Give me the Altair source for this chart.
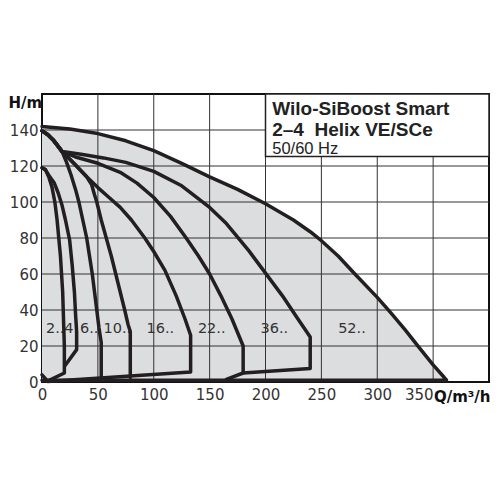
import altair as alt
import pandas as pd

# ---- curve data (Q in m³/h, H in m) ----
Q2 = [0, 3, 6, 9, 11.5, 13.5, 15, 16.5, 17.5, 18.5, 19, 19.5, 20, 20, 5, 0]
H2 = [119, 118, 114, 108, 100, 90, 80, 70, 60, 50, 40, 30, 20, 5, 0.5, 4]

Q4 = [0, 3, 7, 11, 14.5, 18, 21, 24.7, 27, 29, 30, 31, 31, 20.5]
H4 = [119, 118, 114, 110.5, 105, 98, 90, 79, 65, 50, 38, 28, 18, 9]

Q6 = [0, 5, 10, 15, 18, 22, 26, 30, 33, 36.5, 40, 42.5, 45, 47, 49, 51, 53, 53]
H6 = [139.5, 137.5, 134.5, 130.5, 128, 122, 115, 107, 100, 90, 80, 70, 60, 50, 40, 30, 22, 1.5]

Q10 = [0, 5, 10, 15, 18, 30, 40, 44.5, 47, 49, 53, 57.5, 62, 66, 70, 74, 77, 79, 79]
H10 = [139.5, 137.5, 134.5, 130.5, 128, 120.5, 114, 109.5, 104, 100, 90, 80, 70, 60, 50, 40, 32, 28, 2.5]

Q16 = [0, 5, 10, 15, 18, 30, 40, 50, 60, 70, 80, 92, 100, 110, 120, 128, 133, 133, 5]
H16 = [139.5, 137.5, 134.5, 130.5, 128, 120.5, 114, 108, 102.5, 97, 90, 80, 72.5, 62, 48, 35, 26, 5.5, 0.3]

Q22 = [0, 5, 10, 15, 18, 30, 50, 70, 85, 100, 115, 129, 140, 150, 160, 170, 180, 180]
H22 = [139.5, 137.5, 134.5, 130.5, 128, 125, 121.5, 116.5, 110.5, 102.5, 92, 80, 70, 60, 48, 35, 20, 5]

Q36 = [0, 5, 10, 15, 18, 35, 55, 75, 100, 125, 150, 165, 175, 185, 200, 215, 228, 240, 240, 180, 165]
H36 = [139.5, 137.5, 134.5, 130.5, 128, 126.5, 124.5, 122, 117, 109, 97, 88, 80.5, 73, 60.5, 48, 36, 25, 7.5, 5, 1.5]

Q52 = [0, 25, 50, 75, 100, 125, 150, 175, 200, 225, 240, 250, 265, 280, 300, 312, 325, 337, 350, 360, 362, 0]
H52 = [142, 140.5, 138, 134, 128.5, 121.5, 114, 107, 99, 90, 83.5, 78.5, 70, 60, 47, 38.5, 29, 19.5, 9.5, 2.5, 1, 1]

CURVE_NAMES = ["2", "4", "6", "10", "16", "22", "36", "52"]
CURVE_Q = [Q2, Q4, Q6, Q10, Q16, Q22, Q36, Q52]
CURVE_H = [H2, H4, H6, H10, H16, H22, H36, H52]

LABELS = ["2..", "4.", "6..", "10..", "16..", "22..", "36..", "52.."]
LABEL_Q = [3.5, 20, 34, 55, 93.5, 139.5, 195.5, 265]
LABEL_H = [29.5, 29.5, 29.5, 29.5, 29.5, 29.5, 29.5, 29.5]

X_TICKS = [0, 50, 100, 150, 200, 250, 300, 350]
Y_TICKS = [0, 20, 40, 60, 80, 100, 120, 140]

BOX_Q = [200, 400]
BOX_H = [125.3, 160]

TITLE_BOLD = ["Wilo-SiBoost Smart", "2\u20134\u00a0 Helix VE/SCe"]
TITLE_BOLD_H = [148.6, 136.6]
TITLE_REG = ["50/60 Hz"]
TITLE_REG_H = [126.4]
TITLE_Q = 206

FONT = "DejaVu Sans"
TFONT = "Liberation Sans"
INK = "#231f20"

PLOT_W = 447
PLOT_H = 288

# ---- build tables ----
rows = []
for name, qs, hs in zip(CURVE_NAMES, CURVE_Q, CURVE_H):
    for i, (q, h) in enumerate(zip(qs, hs)):
        rows.append({"curve": name, "Q": q, "H": h, "i": i})
lines_df = pd.DataFrame(rows)

area_df = pd.DataFrame({"Q": Q52[:-1], "H": H52[:-1]})
xgrid_df = pd.DataFrame({"Q": X_TICKS[1:]})
ygrid_df = pd.DataFrame({"H": Y_TICKS[1:]})
box_df = pd.DataFrame({"Q": [BOX_Q[0]], "Q2": [BOX_Q[1]], "H": [BOX_H[0]], "H2": [BOX_H[1]]})
bold_df = pd.DataFrame({"t": TITLE_BOLD, "H": TITLE_BOLD_H, "Q": [TITLE_Q] * len(TITLE_BOLD)})
reg_df = pd.DataFrame({"t": TITLE_REG, "H": TITLE_REG_H, "Q": [TITLE_Q] * len(TITLE_REG)})
lab_df = pd.DataFrame({"t": LABELS, "Q": LABEL_Q, "H": LABEL_H})

xs = alt.Scale(domain=[0, 400], nice=False, zero=False)
ys = alt.Scale(domain=[0, 160], nice=False, zero=False)

x_axis = alt.Axis(values=X_TICKS, grid=False, ticks=False, domain=False,
                  labelFont=FONT, labelFontSize=15, labelColor="#333",
                  labelPadding=5, labelFlush=False,
                  labelAlign={"condition": {"test": "datum.value === 350", "value": "right"},
                              "value": "center"},
                  title="Q/m³/h", titleFont=FONT, titleFontSize=15,
                  titleFontWeight="bold", titleColor="#111",
                  titleAlign="right", titleBaseline="middle",
                  titleX=PLOT_W + 1, titleY=14)
y_axis = alt.Axis(values=Y_TICKS, grid=False, ticks=False, domain=False,
                  labelFont=FONT, labelFontSize=15, labelColor="#333",
                  labelPadding=4, labelFlush=False,
                  title="H/m", titleFont=FONT, titleFontSize=15,
                  titleFontWeight="bold", titleColor="#111", titleAngle=0,
                  titleAlign="left", titleBaseline="middle",
                  titleX=-34, titleY=8)

X = alt.X("Q:Q", scale=xs, axis=x_axis)
Y = alt.Y("H:Q", scale=ys, axis=y_axis)

area = alt.Chart(area_df).mark_area(color="#dcdddf").encode(x=X, y=Y, y2=alt.datum(0))
vgrid = alt.Chart(xgrid_df).mark_rule(color="#333", strokeWidth=1).encode(x=X)
hgrid = alt.Chart(ygrid_df).mark_rule(color="#333", strokeWidth=1).encode(y=Y)
box = alt.Chart(box_df).mark_rect(fill="white", stroke="#222", strokeWidth=1.5).encode(
    x=X, x2="Q2:Q", y=Y, y2="H2:Q")
bold_txt = alt.Chart(bold_df).mark_text(font=TFONT, fontSize=19, fontWeight="bold",
                                        align="left", baseline="alphabetic",
                                        color="#222").encode(x=X, y=Y, text="t:N")
reg_txt = alt.Chart(reg_df).mark_text(font=TFONT, fontSize=16.5, align="left",
                                      baseline="alphabetic", color="#222").encode(
    x=X, y=Y, text="t:N")
labels = alt.Chart(lab_df).mark_text(font=FONT, fontSize=14.5, align="left",
                                     baseline="middle", color="#333").encode(
    x=X, y=Y, text="t:N")
curves = alt.Chart(lines_df).mark_line(color=INK, strokeWidth=3.5, strokeJoin="round",
                                       strokeCap="round").encode(
    x=X, y=Y, detail="curve:N", order=alt.Order("i:Q"))

chart = alt.layer(area, vgrid, hgrid, box, bold_txt, reg_txt, labels, curves).properties(
    width=PLOT_W, height=PLOT_H,
    autosize=alt.AutoSizeParams(type="none"),
    padding={"left": 34, "top": 86, "right": 3, "bottom": 30},
).configure_view(stroke="#111", strokeWidth=2)

chart.save("out.html", embed_options={"renderer": "svg", "actions": False})
